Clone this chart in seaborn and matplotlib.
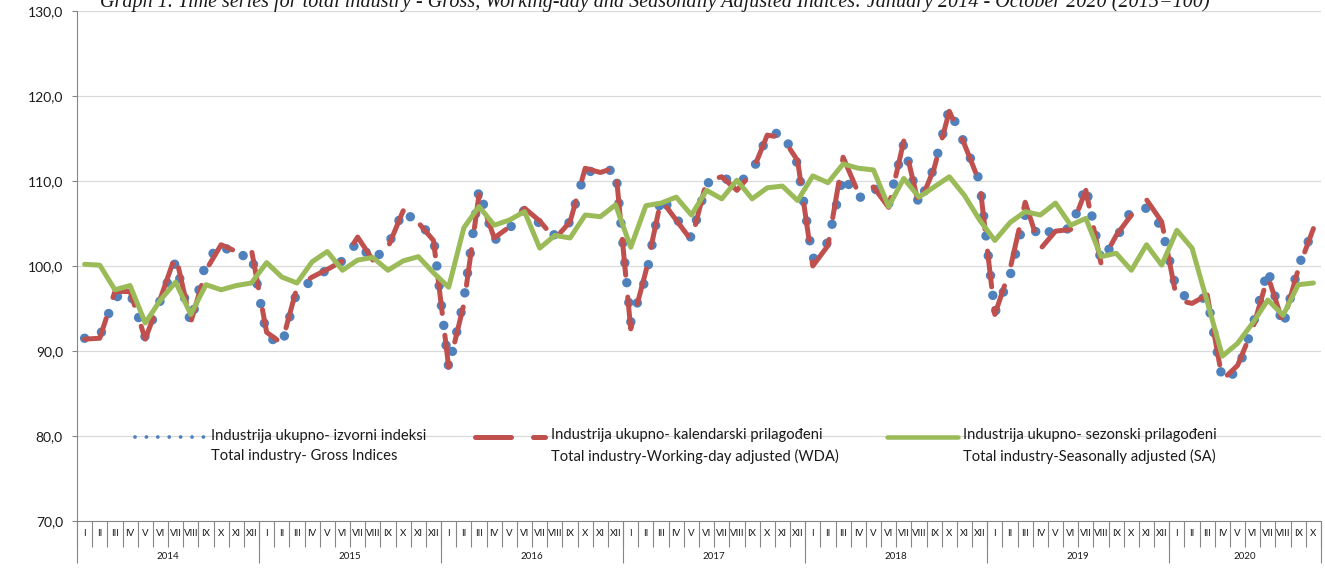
import numpy as np
import pandas as pd
import matplotlib
matplotlib.use("Agg")
import matplotlib.pyplot as plt
import seaborn as sns
from matplotlib.lines import Line2D
from matplotlib.legend_handler import HandlerLine2D

# ---------------- data ----------------
gross = [91.5, 91.7, 96.3, 96.9, 91.6, 96.0, 100.5, 93.3, 100.5, 102.6, 101.0, 101.5,
         91.8, 90.7, 97.0, 98.3, 99.6, 100.6, 102.9, 100.6, 102.4, 106.5, 105.0, 103.4,
         88.0, 96.0, 109.0, 103.0, 104.4, 106.6, 105.0, 103.6, 105.2, 111.2, 111.0, 111.4,
         93.4, 98.6, 108.2, 105.6, 103.3, 109.7, 110.5, 109.6, 111.0, 115.3, 115.8, 112.0,
         100.8, 102.8, 110.6, 107.9, 109.3, 107.3, 114.4, 107.2, 111.6, 118.5, 114.4, 110.0,
         94.5, 98.8, 106.0, 103.2, 104.6, 104.3, 109.4, 100.6, 103.2, 106.6, 106.8, 104.6,
         97.0, 96.0, 96.3, 86.6, 87.6, 93.0, 99.6, 92.9, 99.9, 104.4]

wda = [91.4, 91.5, 97.0, 97.0, 91.4, 96.2, 101.3, 93.4, 99.5, 102.5, 101.7, 101.9,
       92.2, 90.9, 97.5, 98.7, 99.6, 100.6, 103.4, 100.7, 102.2, 106.5, 105.1, 103.0,
       88.1, 95.5, 108.4, 103.3, 104.6, 106.8, 105.3, 103.2, 105.2, 111.5, 111.0, 111.6,
       92.6, 99.4, 107.8, 105.4, 103.0, 110.0, 110.5, 108.9, 111.0, 115.4, 115.1, 112.4,
       100.0, 102.4, 112.8, 108.6, 109.3, 106.9, 114.7, 107.1, 111.5, 118.2, 114.3, 109.8,
       94.3, 99.6, 107.5, 102.0, 104.1, 104.3, 108.9, 100.3, 103.6, 106.0, 107.8, 105.2,
       96.0, 95.6, 96.6, 86.6, 88.3, 92.6, 98.8, 93.3, 99.6, 104.4]

sa = [100.2, 100.1, 97.2, 97.7, 93.3, 96.0, 98.1, 94.3, 97.8, 97.2, 97.7, 98.0,
      100.4, 98.7, 98.0, 100.5, 101.7, 99.5, 100.7, 101.0, 99.5, 100.6, 101.1, 99.2,
      97.5, 104.5, 107.0, 104.8, 105.4, 106.4, 102.1, 103.6, 103.3, 106.0, 105.8, 107.2,
      102.2, 107.1, 107.4, 108.1, 106.0, 108.9, 107.9, 110.1, 107.9, 109.2, 109.4, 107.7,
      110.6, 109.8, 112.0, 111.5, 111.3, 107.0, 110.3, 108.1, 109.3, 110.5, 108.3, 105.4,
      103.0, 105.1, 106.4, 106.0, 107.4, 104.8, 105.6, 101.1, 101.5, 99.5, 102.5, 100.1,
      104.2, 102.1, 95.8, 89.4, 90.9, 93.3, 96.0, 94.2, 97.8, 98.0]

month_labels = ["I", "II", "III", "IV", "V", "VI", "VII", "VIII", "IX", "X", "XI", "XII"]
years = ["2014", "2015", "2016", "2017", "2018", "2019", "2020"]
y_ticks = [70, 80, 90, 100, 110, 120, 130]
y_labels = ["70,0", "80,0", "90,0", "100,0", "110,0", "120,0", "130,0"]

title = ("Graph 1. Time series for total industry - Gross, Working-day and Seasonally "
         "Adjusted Indices: January 2014 - October 2020 (2015=100)")
legend_labels = [
    "Industrija ukupno- izvorni indeksi\nTotal industry- Gross Indices",
    "Industrija ukupno- kalendarski prilagođeni\nTotal industry-Working-day adjusted (WDA)",
    "Industrija ukupno- sezonski prilagođeni\nTotal industry-Seasonally adjusted (SA)",
]

# ---------------- style ----------------
sns.set_theme(style="white")
plt.rcParams['font.family'] = ['Lato', 'DejaVu Sans']

W, H = 1325, 583
PX = 0.72  # points per pixel at dpi 100
BLUE, RED, GREEN = "#4F81BD", "#C0504D", "#9BBB59"
AXC = "#868686"
TXT = "#1a1a1a"

fig = plt.figure(figsize=(W / 100, H / 100), dpi=100)
ax = fig.add_axes([77 / W, 1 - 521 / H, 1244 / W, 510 / H])

n = len(gross)
df = pd.DataFrame({"month": np.arange(n), "gross": gross, "wda": wda, "sa": sa})

sns.lineplot(data=df, x="month", y="gross", ax=ax, color=BLUE, linewidth=9.5 * PX,
             linestyle=(0, (0.001, 2.1)), dash_capstyle="round", zorder=3)
sns.lineplot(data=df, x="month", y="wda", ax=ax, color=RED, linewidth=5 * PX,
             linestyle=(0, (7.2, 4.4)), dash_capstyle="round", dash_joinstyle="round", zorder=4)
sns.lineplot(data=df, x="month", y="sa", ax=ax, color=GREEN, linewidth=5 * PX,
             solid_capstyle="round", solid_joinstyle="round", zorder=5)

# ---------------- axes ----------------
ax.set_xlim(-0.5, n - 0.5)
ax.set_ylim(70, 130)
ax.set_yticks(y_ticks)
ax.set_yticklabels(y_labels)
ax.set_xlabel("")
ax.set_ylabel("")
ax.yaxis.grid(True, color="#d9d9d9", linewidth=1.2 * PX)
ax.xaxis.grid(False)
ax.set_axisbelow(True)
for s in ["top", "right"]:
    ax.spines[s].set_visible(False)
for s in ["left", "bottom"]:
    ax.spines[s].set_color(AXC)
    ax.spines[s].set_linewidth(1.1 * PX)

ax.tick_params(axis="y", which="major", left=True, length=5 * PX, width=1.1 * PX,
               color=AXC, pad=9 * PX, labelsize=10, labelcolor=TXT)

# month labels
ax.set_xticks(np.arange(n))
ax.set_xticklabels([month_labels[i % 12] for i in range(n)])
ax.set_xticks(np.arange(-0.5, n, 1.0), minor=True)
ax.tick_params(axis="x", which="major", bottom=True, length=0, pad=8 * PX,
               labelsize=7, labelcolor=TXT)
ax.tick_params(axis="x", which="minor", bottom=True, length=26 * PX, width=1.1 * PX,
               color=AXC, direction="out")

# year labels on a secondary axis
sec = ax.secondary_xaxis("bottom")
bounds = [-0.5 + 12 * k for k in range(len(years))] + [n - 0.5]
sec.set_xticks(bounds)
sec.set_xticklabels([""] * len(bounds))
centers = [(bounds[k] + bounds[k + 1]) / 2 for k in range(len(years))]
sec.set_xticks(centers, minor=True)
sec.set_xticklabels(years, minor=True)
sec.tick_params(axis="x", which="major", length=42 * PX, width=1.1 * PX, color=AXC)
sec.tick_params(axis="x", which="minor", length=0, pad=31 * PX, labelsize=7,
                labelcolor=TXT)
sec.spines["bottom"].set_visible(False)

# ---------------- legend ----------------
class UpHandler(HandlerLine2D):
    def __init__(self, dy, **kw):
        super().__init__(**kw)
        self.dy = dy

    def create_artists(self, legend, orig_handle, xdescent, ydescent, width, height,
                       fontsize, trans):
        arts = super().create_artists(legend, orig_handle, xdescent, ydescent, width,
                                      height, fontsize, trans)
        for a in arts:
            a.set_ydata(np.asarray(a.get_ydata(), dtype=float) + self.dy)
        return arts


h1 = Line2D([], [], color=BLUE, linewidth=3.8 * PX, linestyle=(0, (0.001, 3.0)),
            dash_capstyle="round")
h2 = Line2D([], [], color=RED, linewidth=5 * PX, linestyle=(0, (7.2, 4.4)),
            dash_capstyle="round")
h3 = Line2D([], [], color=GREEN, linewidth=4.5 * PX, solid_capstyle="round")

leg_fs = 10.6
leg = ax.legend([h1, h2, h3], legend_labels, ncol=3, loc="upper left",
                bbox_to_anchor=(135 / W, 1 - 428 / H), bbox_transform=fig.transFigure,
                frameon=False, fontsize=leg_fs, handlelength=4.8, handletextpad=0.35,
                columnspacing=3.3, borderpad=0, borderaxespad=0,
                handler_map={Line2D: UpHandler(dy=6.4)})
for t in leg.get_texts():
    t.set_linespacing(1.55)
    t.set_color(TXT)

# ---------------- title (fit to width) ----------------
ttl = fig.text(655 / W, 1 - 7 / H, title, ha="center", va="baseline",
               family=["Liberation Serif", "DejaVu Serif"], style="italic",
               fontsize=14, color=TXT)
fig.canvas.draw()
r = fig.canvas.get_renderer()
wpx = ttl.get_window_extent(r).width
ttl.set_fontsize(14 * 1111 / wpx)

fig.savefig("out.png", dpi=100)
